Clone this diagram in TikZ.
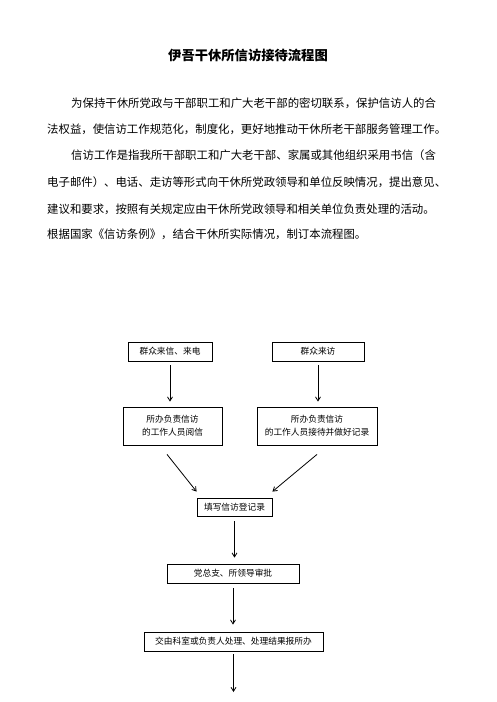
\documentclass[tikz,border=0pt]{standalone}
\usepackage{fontspec}
\usepackage{tikz}
\usetikzlibrary{arrows.meta}
\newfontfamily\cjk{Noto Sans CJK SC}
\XeTeXlinebreaklocale "zh"
\XeTeXlinebreakskip=0pt plus 2pt

\begin{document}
\begin{tikzpicture}[x=1pt,y=-1pt]
\useasboundingbox (0,0) rectangle (496,702);

% title and text
\node[font=\cjk\bfseries\fontsize{13.3}{15}\selectfont] (title) at (248,55) {伊吾干休所信访接待流程图};

\begin{scope}[every node/.style={anchor=west,inner sep=0pt,font=\cjk\fontsize{11.4}{13}\selectfont}]
    \node (l1) at (71,103) {\hbox to 372pt{为保持干休所党政与干部职工和广大老干部的密切联系，保护信访人的合}};
    \node (l2) at (47,129) {\hbox to 398pt{法权益，使信访工作规范化，制度化，更好地推动干休所老干部服务管理工作。}};
    \node (l3) at (71,155) {\hbox to 372pt{信访工作是指我所干部职工和广大老干部、家属或其他组织采用书信（含}};
    \node (l4) at (47,182) {\hbox to 403pt{电子邮件）、电话、走访等形式向干休所党政领导和单位反映情况，提出意见、}};
    \node (l5) at (47,209) {\hbox to 398pt{建议和要求，按照有关规定应由干休所党政领导和相关单位负责处理的活动。}};
    \node (l6) at (47,234) {根据国家《信访条例》，结合干休所实际情况，制订本流程图。};
\end{scope}

% flow chart
\begin{scope}[every node/.style={draw,line width=0.8pt,inner sep=2pt,align=center,
              font=\cjk\fontsize{8.7}{13}\selectfont}]
    \node[minimum width=84pt,minimum height=19pt] (mail) at (170,351.5) {群众来信、来电};
    \node[minimum width=92pt,minimum height=19pt] (visit) at (318,351.5) {群众来访};
    \node[minimum width=99pt,minimum height=38pt] (read) at (172.5,426) {所办负责信访\\的工作人员阅信};
    \node[minimum width=120pt,minimum height=38pt] (recv) at (317,426) {所办负责信访\\的工作人员接待并做好记录};
    \node[minimum width=75pt,minimum height=18pt] (reg) at (234.5,507) {填写信访登记录};
    \node[minimum width=132pt,minimum height=19pt] (appr) at (233,573.5) {党总支、所领导审批};
    \node[minimum width=179pt,minimum height=19pt] (hand) at (233.5,641.5) {交由科室或负责人处理、处理结果报所办};
\end{scope}
\coordinate (next) at (233.5,692);

\begin{scope}[>={Straight Barb[length=4pt,width=5pt]},
              every path/.style={line width=0.8pt}]
    \draw[->,shorten <=4pt,shorten >=5pt] (mail.south) -- (mail.south |- read.north);
    \draw[->,shorten <=4pt,shorten >=5pt] (visit.south) -- (visit.south |- recv.north);
    \draw[->] ([xshift=-5.5pt,yshift=-9pt]read.south) -- ([yshift=6pt]reg.north west);
    \draw[->] ([yshift=-9pt]recv.south) -- ([yshift=6pt]reg.north east);
    \draw[->,shorten <=5pt,shorten >=6pt] (reg.south) -- (reg.south |- appr.north);
    \draw[->,shorten <=5pt,shorten >=7pt] (appr.south) -- (appr.south |- hand.north);
    \draw[->,shorten <=3pt] (hand.south) -- (next);
\end{scope}
\end{tikzpicture}
\end{document}
